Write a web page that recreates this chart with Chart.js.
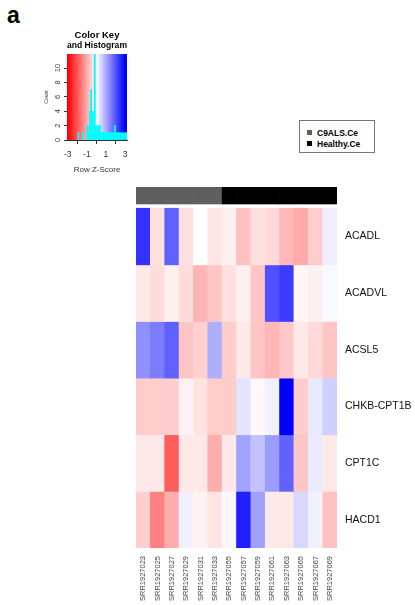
<!DOCTYPE html>
<html>
<head>
<meta charset="utf-8">
<script src="https://cdn.jsdelivr.net/npm/chart.js@4.4.1/dist/chart.umd.min.js"></script>
<style>
  body { margin: 0; background: #fff; font-family: "Liberation Sans", Arial, sans-serif; }
  #page { position: relative; width: 415px; height: 605px; overflow: hidden; }
  #panel { position: absolute; left: 7px; top: 4px; font: bold 23px/23px "Liberation Sans", Arial, sans-serif; }
  #keyChart { position: absolute; left: 0; top: 0; }
  #heatChart { position: absolute; left: 0; top: 180px; }
  #legend { position: absolute; left: 299px; top: 120px; width: 74px; height: 31px; border: 1px solid #777; }
  #legend div { position: absolute; left: 7px; height: 10px; line-height: 10px; font: bold 8.5px "Liberation Sans", Arial, sans-serif; white-space: nowrap; }
  #legend span { display: inline-block; width: 5px; height: 5px; margin-right: 5px; vertical-align: 1px; }
</style>
</head>
<body>
<div id="page">
  <div id="panel">a</div>
  <canvas id="keyChart" width="140" height="180"></canvas>
  <div id="legend"></div>
  <canvas id="heatChart" width="415" height="425"></canvas>
</div>
<script>
// samples (columns) and their groups
const samples = ['SRR1927023', 'SRR1927025', 'SRR1927027', 'SRR1927029', 'SRR1927031', 'SRR1927033', 'SRR1927055',
  'SRR1927057', 'SRR1927059', 'SRR1927061', 'SRR1927063', 'SRR1927065', 'SRR1927067', 'SRR1927069'];
const sampleGroups = ['C9ALS.Ce', 'C9ALS.Ce', 'C9ALS.Ce', 'C9ALS.Ce', 'C9ALS.Ce', 'C9ALS.Ce',
  'Healthy.Ce', 'Healthy.Ce', 'Healthy.Ce', 'Healthy.Ce', 'Healthy.Ce', 'Healthy.Ce', 'Healthy.Ce', 'Healthy.Ce'];
const groupNames = ['C9ALS.Ce', 'Healthy.Ce'];
const groupColors = ['#5f5f5f', '#000000'];

// row z-scores, one array per gene
const genes = ['ACADL', 'ACADVL', 'ACSL5', 'CHKB-CPT1B', 'CPT1C', 'HACD1'];
const acadl = [2.4, -0.36, 1.87, -0.36, 0.0, -0.29, -0.18, -0.74, -0.36, -0.45, -0.83, -1.0, -0.6, 0.2];
const acadvl = [-0.27, -0.41, -0.18, -0.41, -0.88, -0.67, -0.36, -0.18, -0.67, 2.06, 2.3, -0.1, -0.18, 0.08];
const acsl5 = [1.31, 1.54, 1.87, -0.69, -0.55, 0.95, -0.6, -0.27, -0.69, -0.86, -0.65, -0.27, -0.44, -0.67];
const chkbCpt1b = [-0.6, -0.6, -0.6, -0.15, -0.34, -0.6, -0.6, 0.32, -0.07, 0.15, 3.0, -0.6, 0.27, 0.55];
const cpt1c = [-0.27, -0.27, -1.92, -0.27, -0.27, -0.95, -0.27, 1.09, 0.72, 1.16, 1.85, -0.67, 0.25, -0.27];
const hacd1 = [-0.58, -1.49, -0.95, 0.18, -0.15, -0.32, 0.08, 2.62, 1.12, -0.27, -0.27, 0.46, 0.15, -0.72];

// colour key histogram (bin centres and counts)
const histBins = [-1.89, -1.43, -0.95, -0.87, -0.74, -0.65, -0.56, -0.47, -0.38, -0.29, -0.17, -0.08, 0.01, 0.10,
  0.19, 0.28, 0.37, 0.46, 0.58, 0.70, 0.82, 0.94, 1.06, 1.18, 1.30, 1.42, 1.54, 1.66, 1.78, 1.95, 2.07, 2.19,
  2.31, 2.43, 2.58, 2.73, 2.88, 3.03, 3.15];
const histCounts = [1, 1, 2, 1, 2, 4, 7, 2, 4, 1, 12, 2, 1, 2, 2, 1, 2, 1, 1, 1, 1, 1, 1, 1, 1, 1, 1, 1, 1,
  2, 1, 1, 1, 1, 1, 1, 1, 1, 1];
const keyXTicks = [-3, -1, 1, 3];
const keyYTicks = [0, 2, 4, 6, 8, 10];

Chart.defaults.font.family = '"Liberation Sans", Arial, sans-serif';

// red (-3) -> white (0) -> blue (3)
function zColor(v) {
  const t = Math.max(-1, Math.min(1, v / 3));
  const c = Math.round(255 * (1 - Math.abs(t)));
  return t < 0 ? `rgb(255,${c},${c})` : `rgb(${c},${c},255)`;
}

const keyGradient = {
  id: 'keyGradient',
  beforeDatasetsDraw(chart) {
    const { ctx, chartArea: a } = chart;
    const x = chart.scales.x;
    const g = ctx.createLinearGradient(x.getPixelForValue(-3), 0, x.getPixelForValue(3), 0);
    g.addColorStop(0, '#ff0000');
    g.addColorStop(0.5, '#ffffff');
    g.addColorStop(1, '#0000ff');
    ctx.save();
    ctx.fillStyle = g;
    ctx.fillRect(a.left, a.top, a.right - a.left, a.bottom - a.top);
    ctx.restore();
  }
};

// R draws the count labels turned on their side
const sideLabels = {
  id: 'sideLabels',
  afterDraw(chart) {
    const { ctx } = chart;
    const y = chart.scales.y;
    ctx.save();
    ctx.fillStyle = '#333';
    ctx.font = '7.5px "Liberation Sans", Arial, sans-serif';
    ctx.textAlign = 'center';
    ctx.textBaseline = 'middle';
    y.ticks.forEach(t => {
      ctx.save();
      ctx.translate(y.right - 9, y.getPixelForValue(t.value));
      ctx.rotate(-Math.PI / 2);
      ctx.fillText(String(t.value), 0, 0);
      ctx.restore();
    });
    ctx.restore();
  }
};

new Chart(document.getElementById('keyChart'), {
  type: 'bar',
  data: {
    datasets: [{
      data: histBins.map((b, i) => ({ x: b, y: histCounts[i] })),
      backgroundColor: '#00ffff',
      barThickness: 1.2
    }]
  },
  options: {
    responsive: false,
    animation: false,
    layout: { padding: { left: 44, right: 13, top: 0, bottom: 0 } },
    plugins: {
      legend: { display: false },
      tooltip: { enabled: false },
      title: {
        display: true,
        fullSize: false,
        text: ['Color Key', 'and Histogram'],
        color: '#000',
        font: { size: 9.5, weight: 'bold', lineHeight: 1 },
        padding: { top: 31, bottom: 4 }
      }
    },
    scales: {
      x: {
        type: 'linear',
        offset: false,
        min: -3.08,
        max: 3.2,
        afterBuildTicks: s => { s.ticks = keyXTicks.map(v => ({ value: v })); },
        afterFit: s => { s.height = 40; },
        grid: { drawOnChartArea: false, tickLength: 4, color: '#333' },
        border: { color: '#333' },
        ticks: { color: '#333', font: { size: 8.5 }, padding: 6, maxRotation: 0, autoSkip: false },
        title: { display: true, text: 'Row Z-Score', color: '#333', font: { size: 8 }, padding: { top: 2, bottom: 5 } }
      },
      y: {
        min: 0,
        max: 11.95,
        afterBuildTicks: s => { s.ticks = keyYTicks.map(v => ({ value: v })); },
        afterFit: s => { s.width = 23; },
        grid: { drawOnChartArea: false, tickLength: 3, color: '#333' },
        border: { color: '#333' },
        ticks: { display: false },
        title: { display: true, text: 'Count', color: '#333', font: { size: 5 }, padding: 0 }
      }
    }
  },
  plugins: [keyGradient, sideLabels]
});

// group legend
const legendBox = document.getElementById('legend');
groupNames.forEach((name, i) => {
  const item = document.createElement('div');
  item.style.top = (7 + i * 10.6) + 'px';
  item.innerHTML = `<span style="background:${groupColors[i]}"></span>${name}`;
  legendBox.appendChild(item);
});

// heatmap: stacked bars, one dataset per row
const rows = [acadl, acadvl, acsl5, chkbCpt1b, cpt1c, hacd1];
const groupH = 0.3;
const gapH = 0.075;
const rowTop = groupH + gapH;

new Chart(document.getElementById('heatChart'), {
  type: 'bar',
  data: {
    labels: samples,
    datasets: [
      { data: samples.map(() => groupH), backgroundColor: sampleGroups.map(g => groupColors[groupNames.indexOf(g)]) },
      { data: samples.map(() => gapH), backgroundColor: 'rgba(0,0,0,0)' },
      ...rows.map((r, i) => ({ label: genes[i], data: r.map(() => 1), backgroundColor: r.map(zColor) }))
    ]
  },
  options: {
    responsive: false,
    animation: false,
    layout: { padding: { left: 136, top: 7, right: 0, bottom: 0 } },
    datasets: { bar: { barPercentage: 1, categoryPercentage: 1, borderWidth: 0 } },
    plugins: { legend: { display: false }, tooltip: { enabled: false } },
    scales: {
      x: {
        stacked: true,
        grid: { display: false },
        border: { display: false },
        afterFit: s => { s.height = 57; },
        ticks: { color: '#444', font: { size: 7.5 }, minRotation: 90, maxRotation: 90, autoSkip: false, padding: 0 }
      },
      y: {
        stacked: true,
        reverse: true,
        position: 'right',
        min: 0,
        max: rowTop + genes.length,
        grid: { display: false },
        border: { display: false },
        afterBuildTicks: s => { s.ticks = genes.map((g, i) => ({ value: rowTop + i + 0.5 })); },
        afterFit: s => { s.width = 78; },
        ticks: { color: '#111', font: { size: 10.5 }, padding: 0, autoSkip: false, callback: (v, i) => genes[i] }
      }
    }
  }
});
</script>
</body>
</html>
